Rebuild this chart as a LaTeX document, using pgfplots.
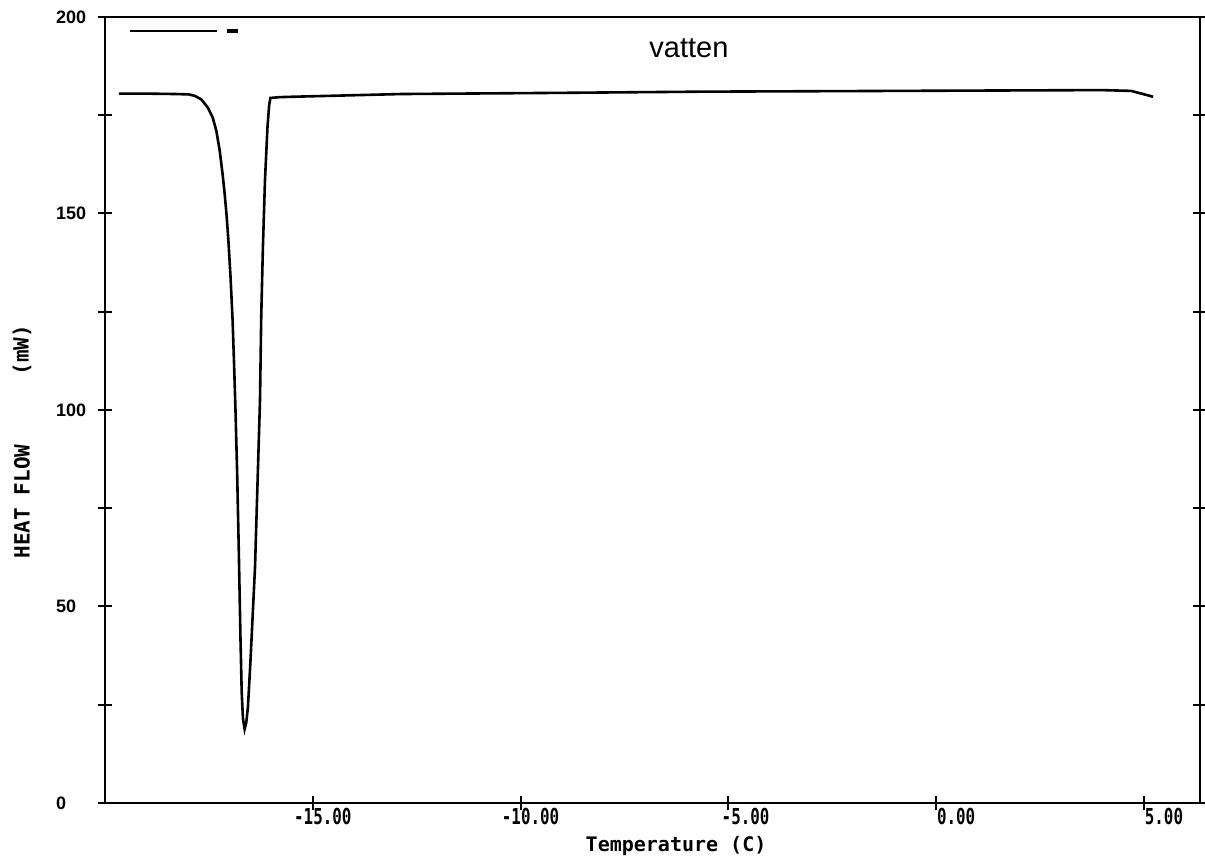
\documentclass[border=0pt]{standalone}
\usepackage{pgfplots}
\pgfplotsset{compat=1.18}
\usepackage{fontspec}
\setmainfont{Liberation Sans}
\newfontfamily\xmono{DejaVu Sans Mono Bold}[FakeStretch=0.72]
\newfontfamily\lmono{DejaVu Sans Mono Bold}
\begin{document}
\begin{tikzpicture}
\begin{axis}[
  name=ax,
  scale only axis,
  width=547.5pt, height=393pt,
  xmin=-20, xmax=6.35, ymin=0, ymax=200,
  xtick={-15,-10,-5,0,5},
  xticklabels={\hspace*{-9.5pt}-15.00,\hspace*{-9.5pt}-10.00,\hspace*{-3.5pt}-5.00,\hspace*{0.3pt}0.00,\hspace*{0.3pt}5.00},
  ytick={0,25,...,200},
  yticklabels={0,,50,,100,,150,,200},
  xtick pos=left,
  ytick pos=both,
  tick align=center,
  major tick length=7pt,
  axis line style={line width=1.2pt},
  tick style={line width=1pt, black},
  xticklabel style={font=\xmono\fontsize{11}{12}\selectfont, anchor=north west, inner sep=0pt, yshift=1pt},
  yticklabel style={font=\bfseries\fontsize{9}{10}\selectfont, anchor=west, xshift=-24.5pt},
  clip=false,
]
\addplot[black, line width=1.3pt] coordinates {
(-19.66,180.5) (-19.0,180.5) (-18.3,180.4) (-17.98,180.3) (-17.83,179.9)
(-17.68,179.0) (-17.53,177.0) (-17.41,174.5) (-17.32,171.0) (-17.24,166.0)
(-17.17,160.0) (-17.12,155.0) (-17.07,149.0) (-17.03,143.0) (-16.98,134.0)
(-16.93,123.0) (-16.895,112) (-16.86,100) (-16.82,84) (-16.78,64)
(-16.74,42) (-16.71,28) (-16.68,21.5) (-16.64,18.8) (-16.60,20.5) (-16.56,24.5)
(-16.50,36) (-16.39,60) (-16.27,102.5) (-16.24,124.0) (-16.20,141.5) (-16.15,158.5)
(-16.09,172.0) (-16.05,177.5) (-16.02,179.4) (-15.8,179.6) (-15.5,179.7) (-12.86,180.4)
(-9,180.7) (-5.65,181.0) (-0.84,181.2) (3.97,181.4) (4.69,181.2)
(5.05,180.2) (5.22,179.7)
};
\draw[line width=1pt] (rel axis cs:0.0228,0.9822) -- (rel axis cs:0.1023,0.9822);
\fill (rel axis cs:0.1114,0.9796) rectangle (rel axis cs:0.1215,0.9847);
\node[font=\fontsize{14.5}{16}\selectfont, anchor=base] at (rel axis cs:0.5333,0.9491) {vatten};
\node[font=\lmono\fontsize{10}{12}\selectfont] at (rel axis cs:0.5215,-0.0547) {Temperature (C)};
\node[font=\lmono\fontsize{10.5}{12}\selectfont, rotate=90] at (rel axis cs:-0.0758,0.3836) {HEAT FLOW};
\node[font=\lmono\fontsize{10.5}{12}\selectfont, rotate=90] at (rel axis cs:-0.0758,0.5763) {(mW)};
\end{axis}
\pgfresetboundingbox
\path[use as bounding box] ([xshift=-52.5pt,yshift=-29.5pt]ax.south west) rectangle ([xshift=2.5pt,yshift=8.5pt]ax.north east);
\end{tikzpicture}
\end{document}
